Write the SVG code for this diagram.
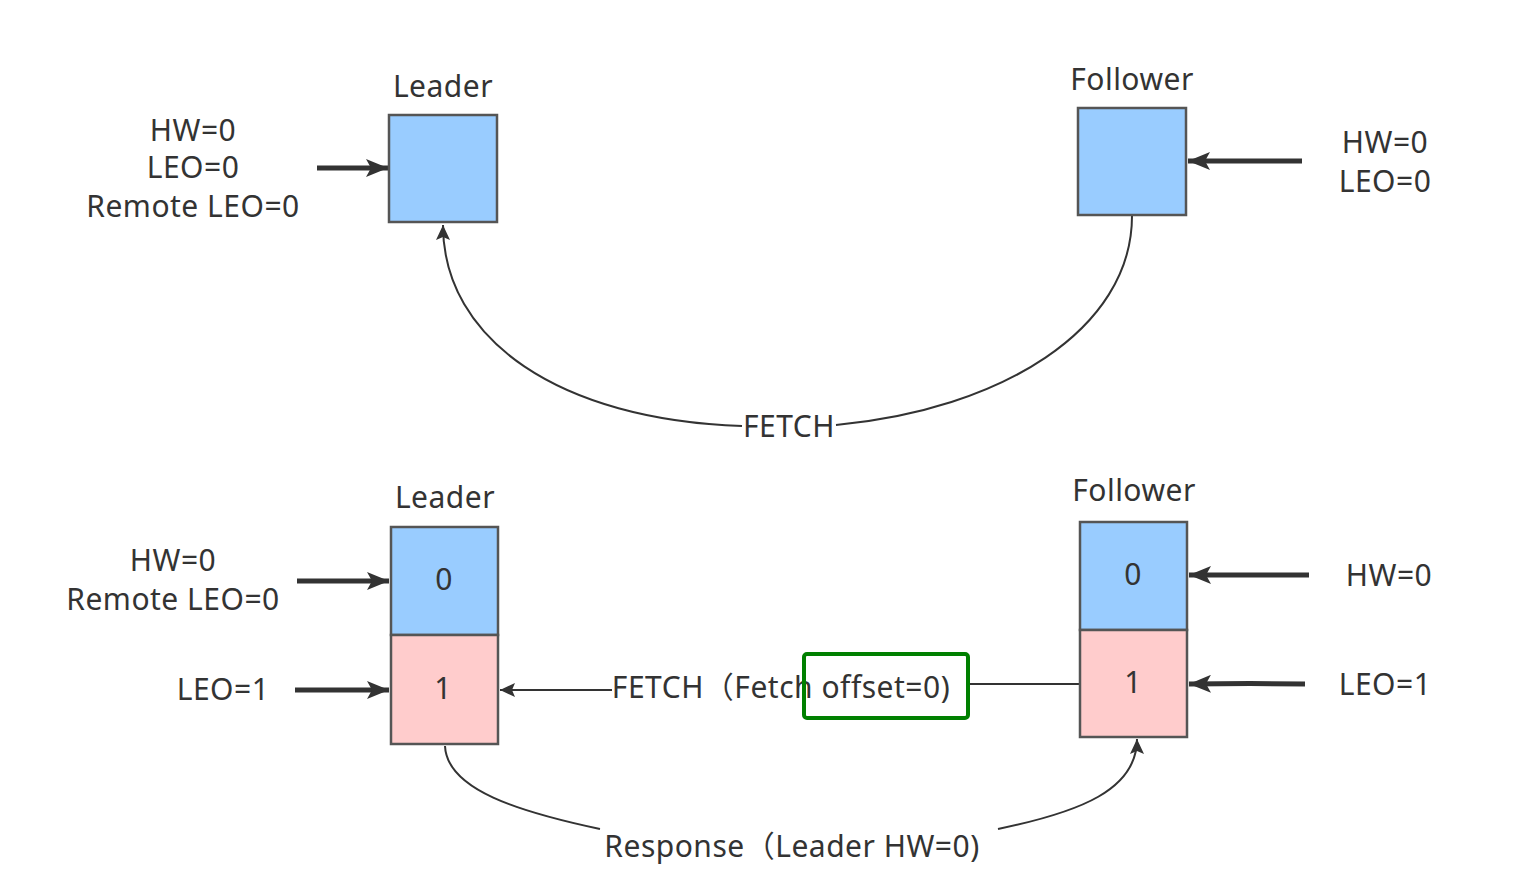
<svg xmlns="http://www.w3.org/2000/svg" width="1516" height="876" viewBox="0 0 1516 876">
<style>
text{font-family:"Noto Sans","Noto Sans CJK SC",sans-serif;font-size:30px;letter-spacing:0.5px;fill:#333;text-anchor:middle}
.blue{fill:#99ccff;stroke:#555;stroke-width:2.5}
.pink{fill:#ffcccc;stroke:#555;stroke-width:2.5}
.thick{stroke:#333;stroke-width:5;fill:none;marker-end:url(#big)}
.thin{stroke:#333;stroke-width:2;fill:none}
</style>
<defs>
<marker id="big" markerUnits="userSpaceOnUse" markerWidth="24" markerHeight="18" refX="22" refY="9" orient="auto"><path d="M0,0 L22,9 L0,18 L5,9 Z" fill="#333"/></marker>
<marker id="small" markerUnits="userSpaceOnUse" markerWidth="16" markerHeight="14" refX="15" refY="7" orient="auto"><path d="M0,0 L15,7 L0,14 L3,7 Z" fill="#333"/></marker>
</defs>
<rect width="1516" height="876" fill="#fff"/>
<g id="connectors">
<line class="thick" x1="317" y1="168" x2="388" y2="168"/>
<line class="thick" x1="1302" y1="161" x2="1188" y2="161"/>
<path class="thin" marker-end="url(#small)" d="M742 426 C560 420,443 340,443 225"/>
<path class="thin" d="M836 425 C1000 410,1132 330,1132 216"/>
<line class="thick" x1="297" y1="581" x2="389" y2="581"/>
<line class="thick" x1="295" y1="690" x2="389" y2="690"/>
<line class="thick" x1="1309" y1="575" x2="1189" y2="575"/>
<path class="thick" d="M1305 684 L1250 683.5 L1189 684"/>
<line class="thin" x1="1080" y1="684" x2="970" y2="684"/>
<line class="thin" marker-end="url(#small)" x1="612" y1="690" x2="500" y2="690"/>
<path class="thin" d="M445 746 C447 790,520 812,600 829"/>
<path class="thin" marker-end="url(#small)" d="M998 829 C1080 812,1137 790,1137 739"/>
</g>
<g id="top-leader">
<text x="443" y="97">Leader</text>
<rect class="blue" x="389" y="115" width="108" height="107"/>
</g>
<g id="top-leader-label">
<text x="193" y="141">HW=0</text>
<text x="193" y="178">LEO=0</text>
<text x="193" y="217">Remote LEO=0</text>
</g>
<g id="top-follower">
<text x="1132" y="90">Follower</text>
<rect class="blue" x="1078" y="108" width="108" height="107"/>
</g>
<g id="top-follower-label">
<text x="1385" y="153">HW=0</text>
<text x="1385" y="192">LEO=0</text>
</g>
<g id="fetch-label"><text x="789" y="437">FETCH</text></g>
<g id="bottom-leader">
<text x="445" y="508">Leader</text>
<rect class="blue" x="391" y="527" width="107" height="108"/>
<rect class="pink" x="391" y="635" width="107" height="109"/>
<text x="444" y="590">0</text>
<text x="443" y="699">1</text>
</g>
<g id="bottom-leader-labels">
<text x="173" y="571">HW=0</text>
<text x="173" y="610">Remote LEO=0</text>
<text x="223" y="700">LEO=1</text>
</g>
<g id="bottom-follower">
<text x="1134" y="501">Follower</text>
<rect class="blue" x="1080" y="522" width="107" height="108"/>
<rect class="pink" x="1080" y="630" width="107" height="107"/>
<text x="1133" y="585">0</text>
<text x="1133" y="693">1</text>
</g>
<g id="bottom-follower-labels">
<text x="1389" y="586">HW=0</text>
<text x="1385" y="695">LEO=1</text>
</g>
<g id="fetch2-label">
<text x="781" y="698">FETCH（Fetch offset=0)</text>
<rect x="804" y="654" width="164" height="64" rx="3" fill="none" stroke="#008000" stroke-width="4"/>
</g>
<g id="response-label"><text x="792" y="857">Response（Leader HW=0)</text></g>
</svg>
